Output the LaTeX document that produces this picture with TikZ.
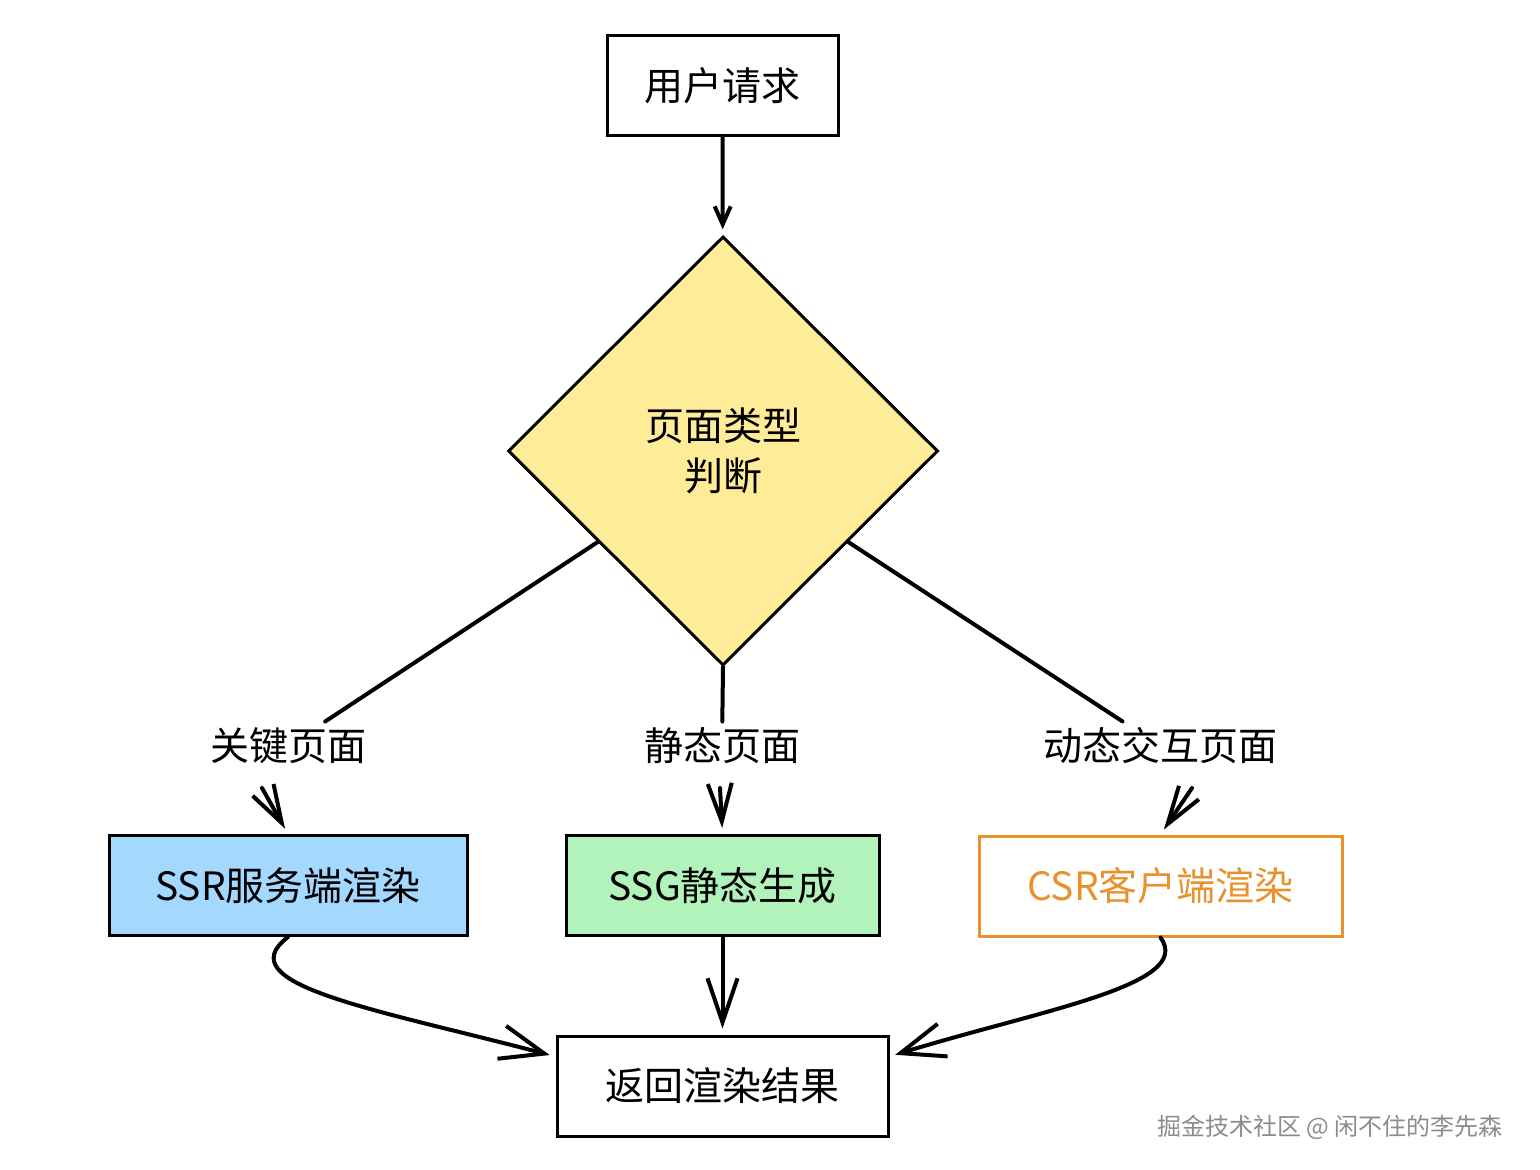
\documentclass[tikz,border=0pt]{standalone}
\usepackage{fontspec}
\setmainfont{Noto Sans CJK SC}
\usetikzlibrary{shapes.geometric,arrows.meta}
\definecolor{ssrblue}{HTML}{A5D8FF}
\definecolor{ssggreen}{HTML}{B2F2BB}
\definecolor{diayellow}{HTML}{FFEC99}
\definecolor{csrorange}{HTML}{E8912D}
\tikzset{
  box/.style={draw, line width=1.5pt, minimum height=50pt, inner sep=0pt, font=\fontsize{19.5}{25}\selectfont},
  lbl/.style={font=\fontsize{19.5}{22}\selectfont, inner sep=3pt},
  link/.style={line width=2pt, line cap=round},
  arr/.style 2 args={link, -{Straight Barb[length=#1, width=#2]}},
}
\begin{document}
\begin{tikzpicture}[x=0.5pt,y=-0.5pt]
    \useasboundingbox (0,0) rectangle (1540,1170);

    % Request and decision
    \node[box, minimum width=115.5pt] (req) at (722.5,86) {用户请求};
    \node[box, diamond, fill=diayellow, minimum width=215pt, minimum height=214.5pt, align=center] (dia) at (723,451) {页面类型\\判断};

    % Branch labels
    \node[lbl] (k1) at (288,746) {关键页面};
    \node[lbl] (k2) at (722,746) {静态页面};
    \node[lbl] (k3) at (1160,746) {动态交互页面};
    \coordinate (k1a) at (262,788);
    \coordinate (k2a) at (720,788);
    \coordinate (k3a) at (1192,788);

    % Rendering modes
    \node[box, fill=ssrblue, minimum width=179pt] (ssr) at (288,885.5) {SSR服务端渲染};
    \node[box, fill=ssggreen, minimum width=156.5pt] (ssg) at (722.5,885.5) {SSG静态生成};
    \node[box, draw=csrorange, text=csrorange, minimum width=181.5pt] (csr) at (1160.5,886) {CSR客户端渲染};

    % Result
    \node[box, minimum width=165.5pt] (res) at (722.5,1086) {返回渲染结果};

    % Connectors
    \draw[arr={9pt}{8pt}, shorten >=3pt] (req) -- (dia);
    \draw[link] (dia.216) -- (k1);
    \draw[link] (dia.south) -- (k2);
    \draw[link] (dia.324) -- (k3);
    \draw[arr={19pt}{12pt}, shorten >=3pt] (k1a) -- (ssr.north);
    \draw[arr={19pt}{12pt}, shorten >=3pt] (k2a) -- (ssg.north);
    \draw[arr={19pt}{12pt}, shorten >=3pt] (k3a) -- (csr.north);
    \draw[arr={22pt}{17pt}, shorten >=3pt] (ssr.south) .. controls (225,985) and (380,1010) .. (res.170);
    \draw[arr={22pt}{15pt}, shorten >=3pt] (ssg) -- (res);
    \draw[arr={22pt}{17pt}, shorten >=3pt] (csr.south) .. controls (1195,985) and (1040,1010) .. (res.10);

    % Watermark
    \node[text=black!45, font=\fontsize{12}{14}\selectfont] (mark) at (1330,1127) {掘金技术社区 @ 闲不住的李先森};
\end{tikzpicture}
\end{document}
